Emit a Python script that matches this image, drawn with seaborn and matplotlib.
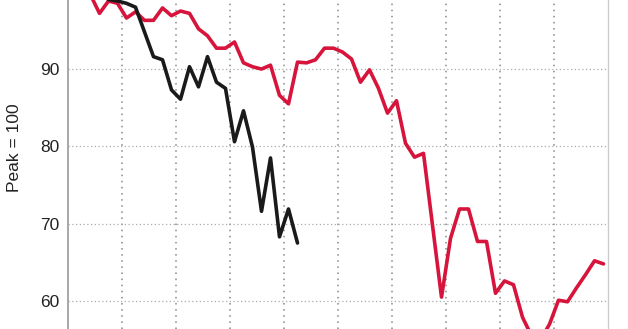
import matplotlib
matplotlib.use("Agg")
import matplotlib.pyplot as plt
import seaborn as sns
import pandas as pd
import numpy as np

# months since peak (plotted at mid-month)
months_red = list(range(60))
red_values = [100.0, 100.2, 99.6, 97.2, 98.8, 98.5, 96.6, 97.4, 96.3, 96.3,
              97.9, 96.9, 97.5, 97.2, 95.2, 94.3, 92.7, 92.7, 93.5, 90.8,
              90.3, 90.0, 90.5, 86.6, 85.5, 90.9, 90.8, 91.2, 92.7, 92.7,
              92.2, 91.3, 88.3, 89.9, 87.5, 84.3, 85.9, 80.4, 78.6, 79.1,
              69.8, 60.5, 68.1, 71.9, 71.9, 67.7, 67.7, 61.0, 62.6, 62.1,
              57.9, 55.5, 55.0, 57.0, 60.1, 59.9, 61.7, 63.4, 65.2, 64.8]
months_black = list(range(26))
black_values = [100.0, 100.3, 100.1, 99.8, 99.0, 98.8, 98.5, 98.0, 94.8, 91.6,
                91.2, 87.3, 86.1, 90.3, 87.7, 91.6, 88.3, 87.5, 80.6, 84.6,
                79.9, 71.6, 78.5, 68.3, 71.9, 67.5]
y_ticks = [60, 70, 80, 90]
y_label = "Peak = 100"

red_df = pd.DataFrame({"month": np.array(months_red) + 0.5, "value": red_values})
black_df = pd.DataFrame({"month": np.array(months_black) + 0.5, "value": black_values})

sns.set_style("white")
plt.rcParams["font.family"] = ["Liberation Sans", "DejaVu Sans"]

fig = plt.figure(figsize=(6.28, 3.29), dpi=100)
ax = fig.add_axes([68 / 628, 0, 540 / 628, 1])

sns.lineplot(data=red_df, x="month", y="value", color="#d6143c", linewidth=2.6, ax=ax)
sns.lineplot(data=black_df, x="month", y="value", color="#1a1a1a", linewidth=2.6, ax=ax)

ax.set_xlim(0, 60)
ax.set_ylim(56.38, 98.93)
ax.set_yticks(y_ticks)
ax.set_xticks(range(6, 60, 6))
ax.set_xticklabels([])
ax.tick_params(axis="both", length=0)
ax.tick_params(axis="y", labelsize=12.5, pad=6, colors="#222222")
ax.set_xlabel("")
ax.set_ylabel(y_label, fontsize=12.5, color="#222222")
ax.yaxis.set_label_coords(-0.085, 0.55)

ax.grid(axis="y", linestyle=(0, (1, 2)), color="#aaaaaa", linewidth=0.9)
ax.grid(axis="x", linestyle=(0, (1, 3)), color="#888888", linewidth=1.1)
ax.set_axisbelow(True)

for side in ["top", "bottom"]:
    ax.spines[side].set_visible(False)
ax.spines["left"].set_color("#999999")
ax.spines["left"].set_linewidth(1.2)
ax.spines["right"].set_color("#cccccc")
ax.spines["right"].set_linewidth(1.0)

fig.savefig("out.png", dpi=100)
